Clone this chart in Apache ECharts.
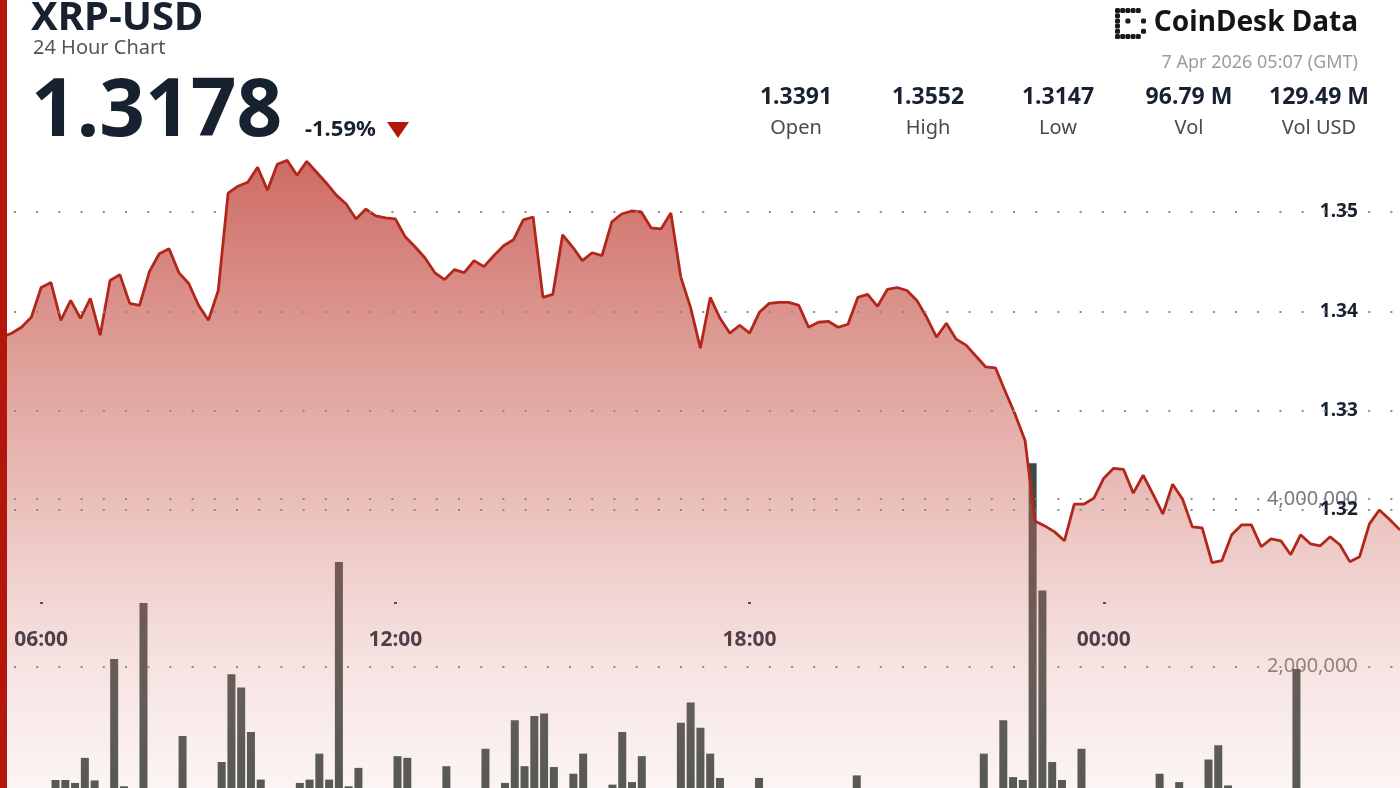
<!DOCTYPE html>
<html><head><meta charset="utf-8">
<script src="https://cdn.jsdelivr.net/npm/echarts@6/dist/echarts.min.js"></script>
<style>html,body{margin:0;padding:0;background:#fff;overflow:hidden}#c{width:1400px;height:788px}</style>
</head><body><div id="c"></div>
<script>
// ---- data ----
const startHour = 5, startMinute = 20, stepMinutes = 10, pointCount = 144;
const timeLabels = [];
for (let i = 0; i < pointCount; i++) {
  const m = (startHour * 60 + startMinute + i * stepMinutes) % 1440;
  timeLabels.push(String(Math.floor(m / 60)).padStart(2, '0') + ':' + String(m % 60).padStart(2, '0'));
}
const axisTimeLabels = ['06:00', '12:00', '18:00', '00:00'];
const priceValues = [
  1.3374,1.3378,1.3384,1.3394,1.3424,1.3429,1.3391,1.3411,1.3393,1.3413,
  1.3376,1.3431,1.3437,1.3408,1.3406,1.3440,1.3458,1.3463,1.3439,1.3428,
  1.3406,1.3391,1.3421,1.3519,1.3526,1.3530,1.3545,1.3522,1.3548,1.3552,
  1.3537,1.3551,1.3540,1.3529,1.3517,1.3508,1.3493,1.3503,1.3496,1.3494,
  1.3493,1.3475,1.3465,1.3454,1.3439,1.3432,1.3442,1.3439,1.3451,1.3445,
  1.3456,1.3466,1.3472,1.3492,1.3495,1.3414,1.3417,1.3477,1.3465,1.3451,
  1.3459,1.3456,1.3490,1.3498,1.3501,1.3500,1.3484,1.3483,1.3499,1.3435,
  1.3404,1.3363,1.3414,1.3393,1.3378,1.3386,1.3378,1.3399,1.3408,1.3409,
  1.3409,1.3406,1.3384,1.3389,1.3390,1.3384,1.3387,1.3414,1.3417,1.3405,
  1.3422,1.3424,1.3421,1.3411,1.3394,1.3374,1.3388,1.3372,1.3366,1.3355,
  1.3344,1.3343,1.3319,1.3296,1.3270,1.3189,1.3184,1.3178,1.3169,1.3206,
  1.3206,1.3212,1.3232,1.3242,1.3241,1.3217,1.3235,1.3216,1.3196,1.3226,
  1.3211,1.3183,1.3182,1.3147,1.3149,1.3175,1.3185,1.3185,1.3163,1.3171,
  1.3169,1.3155,1.3175,1.3166,1.3164,1.3173,1.3165,1.3148,1.3153,1.3186,
  1.3200,1.3191,1.3181,1.3178
];
const volumeValues = [
  300000,280000,320000,350000,400000,645000,645000,610000,910000,640000,
  420000,2090000,570000,380000,2760000,450000,380000,400000,1170000,420000,
  380000,450000,860000,1910000,1750000,1220000,650000,420000,380000,450000,
  610000,650000,960000,650000,3250000,570000,790000,400000,350000,420000,
  930000,910000,380000,350000,420000,810000,400000,380000,450000,1020000,
  420000,610000,1360000,810000,1410000,1440000,800000,450000,720000,960000,
  420000,380000,590000,1220000,620000,930000,420000,380000,500000,1330000,
  1570000,1270000,960000,670000,400000,350000,380000,670000,400000,330000,
  300000,350000,380000,320000,300000,350000,400000,700000,380000,330000,
  350000,400000,380000,420000,450000,400000,380000,420000,450000,500000,
  960000,480000,1360000,680000,645000,4430000,2910000,860000,645000,450000,
  1020000,420000,380000,400000,350000,380000,420000,400000,720000,450000,
  620000,420000,480000,890000,1060000,580000,400000,350000,380000,330000,
  350000,420000,1970000,400000,350000,330000,380000,420000,400000,350000,
  330000,300000,320000,280000
];
const priceTicks = [1.32, 1.33, 1.34, 1.35];
const volumeTicks = [2000000, 4000000];
const titleText = 'XRP-USD';
const subtitleText = '24 Hour Chart';
const lastPrice = '1.3178';
const changeText = '-1.59%';
const dateText = '7 Apr 2026 05:07 (GMT)';
const brandText = 'CoinDesk Data';
const statValues = ['1.3391', '1.3552', '1.3147', '96.79 M', '129.49 M'];
const statLabels = ['Open', 'High', 'Low', 'Vol', 'Vol USD'];

// ---- styles ----
const FONT = '"Noto Sans", "Open Sans", sans-serif';
const DARK = '#18212f';
const statX = [796, 928, 1058, 1189, 1319];

const chart = echarts.init(document.getElementById('c'), null, {renderer: 'canvas'});

const dotLine = {type: [2, 20.2], dashOffset: 10, color: '#8c8c8c', width: 2};

const graphics = [
  {type: 'rect', shape: {x: 0, y: 0, width: 7, height: 788}, style: {fill: '#b3170c'}, z: 100},
  {type: 'text', x: 31, y: 19, style: {text: titleText, font: 'bold 40px ' + FONT, fill: DARK, align: 'left', verticalAlign: 'middle'}},
  {type: 'text', x: 33, y: 48.5, style: {text: subtitleText, font: '20px ' + FONT, fill: '#555', align: 'left', verticalAlign: 'middle'}},
  {type: 'text', x: 31, y: 113, style: {text: lastPrice, font: 'bold 80px ' + FONT, fill: DARK, align: 'left', verticalAlign: 'middle'}},
  {type: 'text', x: 305, y: 130, style: {text: changeText, font: 'bold 22px ' + FONT, fill: DARK, align: 'left', verticalAlign: 'middle'}},
  {type: 'polygon', shape: {points: [[387, 122], [409, 122], [398, 138]]}, style: {fill: '#b3170c'}},
  {type: 'text', x: 1358, y: 23, style: {text: brandText, font: 'bold 28px ' + FONT, fill: '#151515', align: 'right', verticalAlign: 'middle'}},
  {type: 'text', x: 1358, y: 63, style: {text: dateText, font: '18px ' + FONT, fill: '#9c9c9c', align: 'right', verticalAlign: 'middle'}}
];
// dotted logo mark
const logoCells = [
  [0,0],[1,0],[2,0],[3,0],[4,0],
  [0,1],[0,2],[0,3],[0,4],
  [2,2],[5,2],[5,4],
  [0,5],[1,5],[2,5],[3,5],[4,5]
];
logoCells.forEach(([cx, cy]) => {
  graphics.push({type: 'rect', shape: {x: 1115 + cx * 5.2, y: 8 + cy * 5.2, width: 5, height: 5, r: 1.5}, style: {fill: '#1a1a1a'}});
});
statValues.forEach((v, i) => {
  graphics.push({type: 'text', x: statX[i], y: 97, style: {text: v, font: 'bold 23px ' + FONT, fill: DARK, align: 'center', verticalAlign: 'middle'}});
  graphics.push({type: 'text', x: statX[i], y: 128.5, style: {text: statLabels[i], font: '20px ' + FONT, fill: '#4a4a4a', align: 'center', verticalAlign: 'middle'}});
});

const option = {
  animation: false,
  backgroundColor: '#ffffff',
  grid: [
    {left: 1.8, width: 1407, top: 112.67, height: 794.67, outerBoundsMode: 'none', containLabel: false},
    {left: 1.8, width: 1407, top: 457.35, height: 376.65, outerBoundsMode: 'none', containLabel: false}
  ],
  xAxis: [
    {
      type: 'category', gridIndex: 0, data: timeLabels, boundaryGap: false, position: 'bottom', offset: -305.3,
      axisLine: {show: false},
      axisTick: {show: true, length: 2, interval: (i, v) => axisTimeLabels.includes(v), lineStyle: {width: 3, color: '#333'}},
      axisLabel: {interval: (i, v) => axisTimeLabels.includes(v), margin: 27, fontSize: 21, fontWeight: 'bold', color: DARK, fontFamily: FONT},
      splitLine: {show: false}
    },
    {type: 'category', gridIndex: 1, data: timeLabels, boundaryGap: true, show: false}
  ],
  yAxis: [
    {
      type: 'value', gridIndex: 1, position: 'right', min: 0, max: 4500000, interval: 2000000,
      axisLine: {show: false}, axisTick: {show: false}, splitLine: {show: false},
      axisLabel: {inside: true, margin: 51, fontSize: 20, color: '#7a7a7a', fontFamily: FONT,
        formatter: v => volumeTicks.includes(v) ? v.toLocaleString('en-US') : ''}
    },
    {
      type: 'value', gridIndex: 0, position: 'right', min: 1.28, max: 1.36, interval: 0.01,
      axisLine: {show: false}, axisTick: {show: false}, splitLine: {show: false},
      axisLabel: {inside: true, margin: 51, fontSize: 19, fontWeight: 'bold', color: DARK, fontFamily: FONT,
        formatter: v => (v > 1.315 && v < 1.355) ? v.toFixed(2) : ''}
    }
  ],
  series: [
    {
      type: 'bar', xAxisIndex: 1, yAxisIndex: 0, data: volumeValues, barWidth: 8,
      itemStyle: {color: '#3f4a44'},
      markLine: {silent: true, symbol: 'none', label: {show: false}, lineStyle: dotLine, data: volumeTicks.map(v => ({yAxis: v}))}
    },
    {
      type: 'line', xAxisIndex: 0, yAxisIndex: 1, data: priceValues, showSymbol: false, symbol: 'none',
      lineStyle: {color: '#b2271c', width: 2.8},
      areaStyle: {
        origin: 'start', opacity: 1,
        color: new echarts.graphic.LinearGradient(0, 160, 0, 806, [
          {offset: 0, color: 'rgba(190,60,50,0.76)'},
          {offset: 0.52, color: 'rgba(204,99,88,0.42)'},
          {offset: 0.96, color: 'rgba(230,175,175,0.15)'},
          {offset: 1, color: 'rgba(235,190,190,0.12)'}
        ], true)
      },
      markLine: {silent: true, symbol: 'none', label: {show: false}, lineStyle: dotLine, data: priceTicks.map(v => ({yAxis: v}))}
    }
  ],
  graphic: graphics
};
chart.setOption(option);
</script></body></html>
